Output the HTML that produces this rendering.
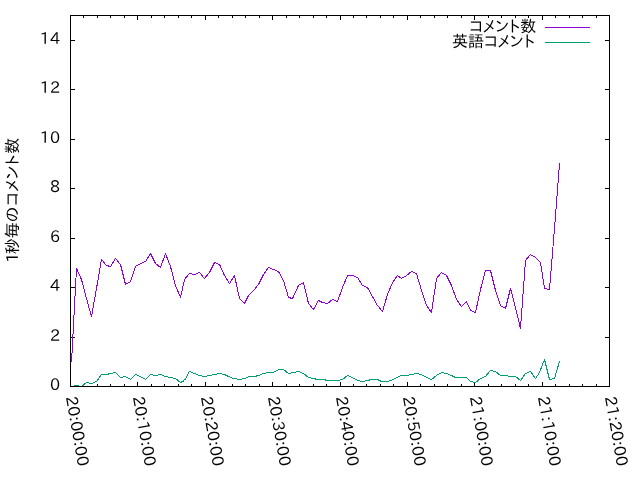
<!DOCTYPE html>
<html lang="ja">
<head>
<meta charset="utf-8">
<title>1秒毎のコメント数</title>
<style>
html,body{margin:0;padding:0;background:#fff;}
body{width:640px;height:480px;overflow:hidden;}
svg{display:block;will-change:transform;}
text{font-family:'IPAPGothic','IPA Pゴシック','IPAGothic','Liberation Sans','Noto Sans CJK JP',sans-serif;font-size:16px;fill:#000;}
</style>
</head>
<body>
<svg width="640" height="480" viewBox="0 0 640 480">
<rect x="0" y="0" width="640" height="480" fill="#ffffff"/>
<g fill="none" stroke-width="1" stroke-linejoin="bevel" shape-rendering="crispEdges">
<path stroke="#000" d="M70 386.5h5M610 386.5h-5M70 337.5h5M610 337.5h-5M70 287.5h5M610 287.5h-5M70 238.5h5M610 238.5h-5M70 188.5h5M610 188.5h-5M70 139.5h5M610 139.5h-5M70 89.5h5M610 89.5h-5M70 40.5h5M610 40.5h-5M70.5 387v-5M70.5 15v5M83.5 387v-3M83.5 15v3M97.5 387v-3M97.5 15v3M110.5 387v-3M110.5 15v3M124.5 387v-3M124.5 15v3M137.5 387v-5M137.5 15v5M151.5 387v-3M151.5 15v3M164.5 387v-3M164.5 15v3M178.5 387v-3M178.5 15v3M191.5 387v-3M191.5 15v3M205.5 387v-5M205.5 15v5M218.5 387v-3M218.5 15v3M232.5 387v-3M232.5 15v3M245.5 387v-3M245.5 15v3M259.5 387v-3M259.5 15v3M272.5 387v-5M272.5 15v5M286.5 387v-3M286.5 15v3M299.5 387v-3M299.5 15v3M313.5 387v-3M313.5 15v3M326.5 387v-3M326.5 15v3M340.5 387v-5M340.5 15v5M353.5 387v-3M353.5 15v3M366.5 387v-3M366.5 15v3M380.5 387v-3M380.5 15v3M393.5 387v-3M393.5 15v3M407.5 387v-5M407.5 15v5M420.5 387v-3M420.5 15v3M434.5 387v-3M434.5 15v3M447.5 387v-3M447.5 15v3M461.5 387v-3M461.5 15v3M474.5 387v-5M474.5 15v5M488.5 387v-3M488.5 15v3M501.5 387v-3M501.5 15v3M515.5 387v-3M515.5 15v3M528.5 387v-3M528.5 15v3M542.5 387v-5M542.5 15v5M555.5 387v-3M555.5 15v3M569.5 387v-3M569.5 15v3M582.5 387v-3M582.5 15v3M596.5 387v-3M596.5 15v3M609.5 387v-5M609.5 15v5"/>
<polyline stroke="#9400d3" points="71.5,362.5 76.5,268.5 81.5,279.5 86.5,298.5 91.5,316.5 96.5,288.5 101.5,259.5 106.5,265.5 110.5,266.5 115.5,258.5 120.5,264.5 125.5,284.5 130.5,281.5 135.5,266.5 140.5,263.5 145.5,261.5 150.5,253.5 155.5,263.5 160.5,267.5 165.5,253.5 170.5,266.5 175.5,285.5 180.5,297.5 184.5,279.5 189.5,273.5 194.5,274.5 199.5,272.5 204.5,278.5 209.5,272.5 214.5,262.5 219.5,264.5 224.5,275.5 229.5,283.5 234.5,275.5 239.5,298.5 244.5,303.5 248.5,295.5 253.5,290.5 258.5,284.5 263.5,274.5 268.5,267.5 273.5,269.5 278.5,271.5 283.5,280.5 288.5,297.5 292.5,298.5 298.5,285.5 303.5,282.5 308.5,303.5 313.5,309.5 318.5,300.5 322.5,302.5 327.5,303.5 332.5,299.5 337.5,301.5 342.5,287.5 347.5,275.5 352.5,275.5 357.5,277.5 362.5,285.5 367.5,287.5 372.5,296.5 377.5,305.5 382.5,311.5 387.5,294.5 392.5,282.5 397.5,275.5 401.5,278.5 406.5,275.5 411.5,271.5 416.5,273.5 421.5,290.5 426.5,305.5 431.5,312.5 436.5,278.5 441.5,272.5 446.5,275.5 451.5,285.5 456.5,299.5 461.5,306.5 466.5,301.5 470.5,310.5 475.5,312.5 480.5,289.5 485.5,270.5 490.5,270.5 495.5,290.5 500.5,305.5 505.5,308.5 510.5,288.5 515.5,307.5 520.5,328.5 525.5,260.5 530.5,254.5 535.5,257.5 540.5,262.5 544.5,288.5 549.5,289.5 554.5,228.5 559.5,163.5"/>
<polyline stroke="#009e73" points="71.5,386.5 76.5,385.5 81.5,386.5 86.5,382.5 91.5,383.5 96.5,381.5 101.5,374.5 106.5,374.5 110.5,373.5 115.5,372.5 120.5,377.5 125.5,376.5 130.5,379.5 135.5,374.5 140.5,376.5 145.5,379.5 150.5,374.5 155.5,375.5 160.5,374.5 165.5,376.5 170.5,377.5 175.5,378.5 180.5,382.5 184.5,380.5 189.5,371.5 194.5,373.5 199.5,375.5 204.5,376.5 209.5,375.5 214.5,374.5 219.5,373.5 224.5,374.5 228.5,376.5 233.5,378.5 239.5,379.5 244.5,378.5 249.5,376.5 254.5,376.5 258.5,375.5 263.5,373.5 268.5,372.5 273.5,372.5 278.5,369.5 283.5,369.5 288.5,373.5 293.5,372.5 298.5,371.5 303.5,373.5 308.5,377.5 313.5,378.5 317.5,379.5 323.5,379.5 327.5,380.5 332.5,380.5 337.5,380.5 342.5,379.5 347.5,375.5 352.5,377.5 357.5,380.5 362.5,381.5 367.5,380.5 371.5,379.5 377.5,379.5 381.5,381.5 386.5,381.5 391.5,380.5 396.5,377.5 401.5,375.5 406.5,375.5 411.5,374.5 416.5,373.5 421.5,374.5 426.5,377.5 431.5,379.5 436.5,375.5 441.5,372.5 446.5,373.5 451.5,375.5 455.5,377.5 460.5,377.5 466.5,377.5 470.5,381.5 475.5,382.5 480.5,378.5 485.5,376.5 490.5,370.5 495.5,371.5 500.5,375.5 505.5,375.5 510.5,376.5 515.5,376.5 520.5,380.5 525.5,373.5 530.5,371.5 535.5,378.5 539.5,372.5 544.5,359.5 549.5,379.5 554.5,378.5 559.5,361.5"/>
<path stroke="#9400d3" d="M545 27.5H590"/>
<path stroke="#009e73" d="M545 42.5H590"/>
<rect stroke="#000" x="70.5" y="15.5" width="539" height="371"/>
</g>
<g text-anchor="end">
<text x="60" y="390" textLength="10.08" lengthAdjust="spacingAndGlyphs">0</text>
<text x="60" y="341" textLength="10.08" lengthAdjust="spacingAndGlyphs">2</text>
<text x="60" y="291" textLength="10.08" lengthAdjust="spacingAndGlyphs">4</text>
<text x="60" y="242" textLength="10.08" lengthAdjust="spacingAndGlyphs">6</text>
<text x="60" y="192" textLength="10.08" lengthAdjust="spacingAndGlyphs">8</text>
<text x="60" y="143" textLength="20.16" lengthAdjust="spacingAndGlyphs">10</text>
<text x="60" y="93" textLength="20.16" lengthAdjust="spacingAndGlyphs">12</text>
<text x="60" y="44" textLength="20.16" lengthAdjust="spacingAndGlyphs">14</text>
</g>
<g>
<text transform="translate(65.8,397.3) rotate(80)" x="0" y="0" textLength="70.70" lengthAdjust="spacingAndGlyphs">20:00:00</text>
<text transform="translate(132.8,397.3) rotate(80)" x="0" y="0" textLength="70.70" lengthAdjust="spacingAndGlyphs">20:10:00</text>
<text transform="translate(200.8,397.3) rotate(80)" x="0" y="0" textLength="70.70" lengthAdjust="spacingAndGlyphs">20:20:00</text>
<text transform="translate(267.8,397.3) rotate(80)" x="0" y="0" textLength="70.70" lengthAdjust="spacingAndGlyphs">20:30:00</text>
<text transform="translate(335.8,397.3) rotate(80)" x="0" y="0" textLength="70.70" lengthAdjust="spacingAndGlyphs">20:40:00</text>
<text transform="translate(402.8,397.3) rotate(80)" x="0" y="0" textLength="70.70" lengthAdjust="spacingAndGlyphs">20:50:00</text>
<text transform="translate(469.8,397.3) rotate(80)" x="0" y="0" textLength="70.70" lengthAdjust="spacingAndGlyphs">21:00:00</text>
<text transform="translate(537.8,397.3) rotate(80)" x="0" y="0" textLength="70.70" lengthAdjust="spacingAndGlyphs">21:10:00</text>
<text transform="translate(604.8,397.3) rotate(80)" x="0" y="0" textLength="70.70" lengthAdjust="spacingAndGlyphs">21:20:00</text>
</g>
<g text-anchor="end">
<text x="536.3" y="32" textLength="67.04" lengthAdjust="spacingAndGlyphs">コメント数</text>
<text x="535" y="47" textLength="83.04" lengthAdjust="spacingAndGlyphs">英語コメント</text>
</g>
<text transform="translate(18,200) rotate(-90)" x="-62.8 -54.3 -38.2 -22.2 -6.1 7.9 20.4 34.3 46.3" y="0">1秒毎のコメント数</text>
</svg>
</body>
</html>
